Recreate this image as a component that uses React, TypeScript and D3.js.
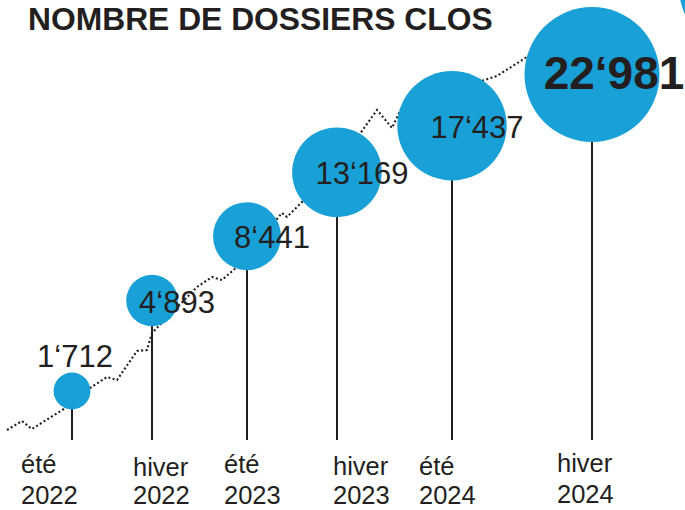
import React from 'react';
import * as d3 from 'd3';

// ---- data ----
const seasons = ['été', 'hiver', 'été', 'hiver', 'été', 'hiver'];
const years = ['2022', '2022', '2023', '2023', '2024', '2024'];
const closedCases = [1712, 4893, 8441, 13169, 17437, 22981];
const caseWeek = [13, 29, 48, 66, 89, 117];

// dotted background trend (week, cumulative count)
const trendWeek = [0, 3, 5, 12, 16, 20, 22, 26, 28, 29, 38, 41, 43, 46, 55, 56, 60, 70, 74, 77, 79, 98, 104, 107];
const trendCount = [905, 1064, 922, 1344, 1737, 2079, 1996, 2877, 2911, 3523, 5544, 6058, 5900, 6598, 10015, 9733, 11195, 16246, 19047, 17216, 19362, 22812, 25097, 25721];

const title = 'NOMBRE DE DOSSIERS CLOS';

// ---- layout (hand-placed label nudges of the infographic) ----
const labelDx = [-51, -19, -23, -4, -33, -35];
const labelDy = [0, 3, 0, 2, 2, -1];

const W = 685;
const H = 510;
const BLUE = '#19a1d7';
const INK = '#231f20';
const FONT = '"Liberation Sans", Arial, Helvetica, sans-serif';

const fmt = (v: number) => {
  const s = String(v);
  return s.length > 3 ? s.slice(0, s.length - 3) + '\u2018' + s.slice(s.length - 3) : s;
};

export default function App() {
  const x = d3.scaleLinear().domain([0, 117]).range([7, 592]);
  const y = d3.scalePow().exponent(0.4).domain([1712, 22981]).range([391, 74.5]);
  const r = d3.scaleLinear().domain([0, 22981]).range([14.5, 67.5]);
  const maxV = d3.max(closedCases) as number;

  const trendPts: [number, number][] = trendWeek.map((w, i) => [w, trendCount[i]]);
  const line = d3
    .line<[number, number]>()
    .x((d) => x(d[0]))
    .y((d) => y(d[1]));

  const stemBottom = 440;

  return (
    <svg width={W} height={H} style={{ position: 'absolute', left: 0, top: 0, background: '#fff' }} fontFamily={FONT}>
      {/* decorative partial circle at top right */}
      <circle cx={768} cy={-20} r={90} fill={BLUE} />

      <text x={28} y={30} fontSize={31.8} fontWeight="bold" fill={INK}>
        {title}
      </text>

      <path
        d={line(trendPts) || ''}
        fill="none"
        stroke={INK}
        strokeWidth={2.1}
        strokeDasharray="2 2.4"
      />

      {closedCases.map((v, i) => {
        const cx = x(caseWeek[i]);
        const cy = y(v);
        return <line key={'s' + i} x1={cx} x2={cx} y1={cy} y2={stemBottom} stroke={INK} strokeWidth={2} />;
      })}

      {closedCases.map((v, i) => (
        <circle key={'c' + i} cx={x(caseWeek[i])} cy={y(v)} r={r(v)} fill={BLUE} />
      ))}

      {closedCases.map((v, i) => {
        const cx = x(caseWeek[i]);
        const cy = y(v);
        const rr = r(v);
        const isMax = v === maxV;
        const small = rr < 20;
        const tx = small ? cx + 3 : isMax ? cx + 22 : cx + 25;
        const ty = small ? cy - rr - 6 : isMax ? cy + 14 : cy + 12;
        return (
          <text
            key={'v' + i}
            x={tx}
            y={ty}
            textAnchor="middle"
            fontSize={isMax ? 46 : 31}
            fontWeight={isMax ? 'bold' : 'normal'}
            fill={INK}
          >
            {fmt(v)}
          </text>
        );
      })}

      {closedCases.map((v, i) => {
        const lx = x(caseWeek[i]) + labelDx[i];
        const sy = 473 + labelDy[i];
        const yy = Math.min(sy + 31, 504);
        return (
          <text key={'l' + i} fontSize={25.5} fill={INK}>
            <tspan x={lx} y={sy}>{seasons[i]}</tspan>
            <tspan x={lx} y={yy}>{years[i]}</tspan>
          </text>
        );
      })}
    </svg>
  );
}
